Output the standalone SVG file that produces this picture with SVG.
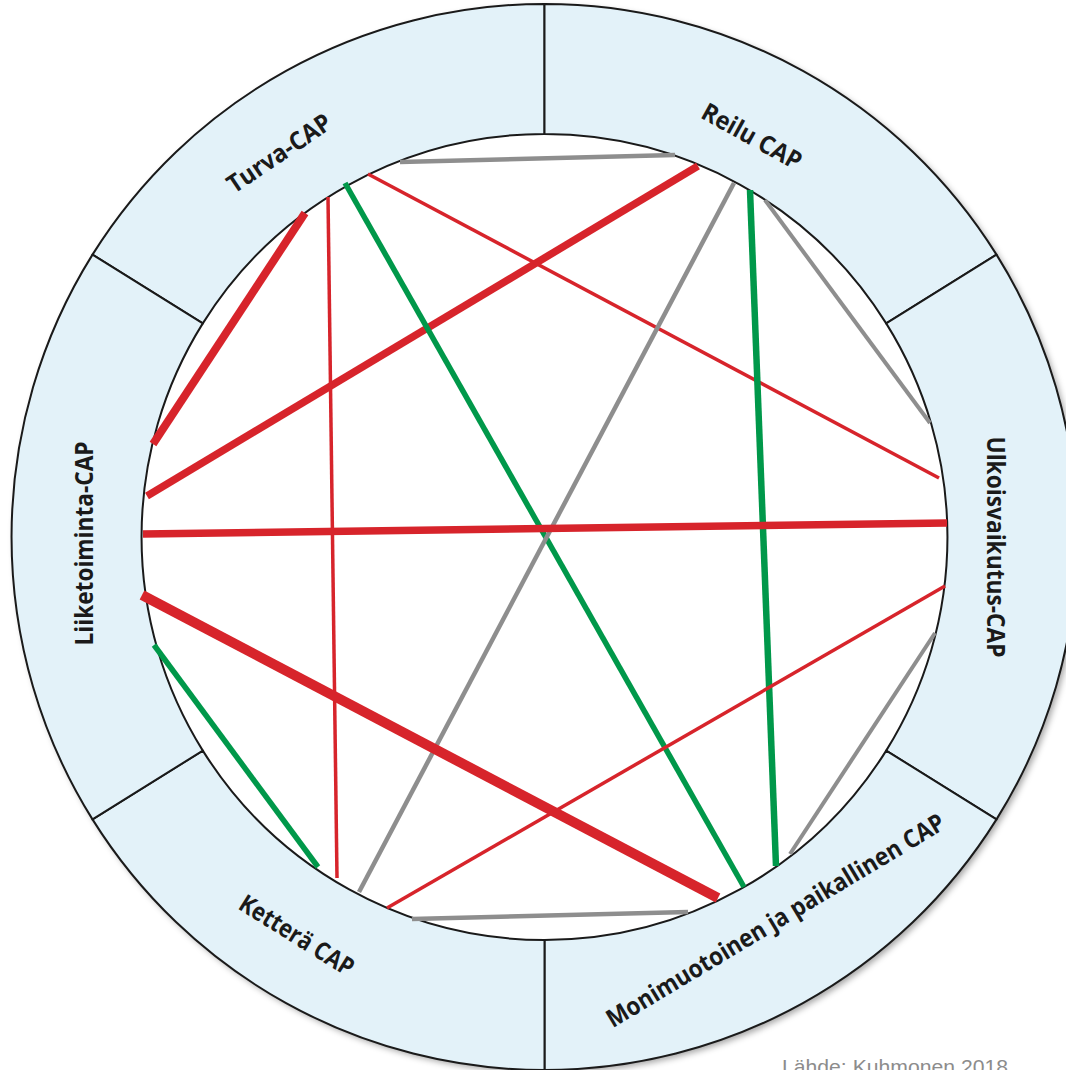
<svg xmlns="http://www.w3.org/2000/svg" width="1066" height="1070" viewBox="0 0 1066 1070">
  <style>
    .seg { fill: #e3f2f9; stroke: #1a1a1a; stroke-width: 2; stroke-linejoin: round; }
    .lbl { font-family: "Open Sans", "Liberation Sans", sans-serif; font-weight: bold; font-size: 25px; fill: #1a1a1a; text-anchor: middle; }
    .src { font-family: "Liberation Sans", Arial, sans-serif; font-size: 21px; fill: #8c8c8c; }
    .c { fill: none; stroke-linecap: butt; }
    .red { stroke: #d7242b; }
    .green { stroke: #00984a; }
    .gray { stroke: #8e8e8e; }
  </style>
  <defs>
    <filter id="shadow" x="-10%" y="-10%" width="120%" height="120%">
      <feGaussianBlur in="SourceAlpha" stdDeviation="3"/>
      <feOffset dx="3" dy="3" result="b"/>
      <feFlood flood-color="#000" flood-opacity="0.35"/>
      <feComposite in2="b" operator="in"/>
      <feMerge><feMergeNode/><feMergeNode in="SourceGraphic"/></feMerge>
    </filter>
  </defs>
  <rect width="1066" height="1070" fill="#ffffff"/>
  <g id="ring-bg">
    <circle cx="544.5" cy="537" r="533" fill="#e3f2f9" filter="url(#shadow)"/>
    <circle cx="544.5" cy="537" r="403" fill="#ffffff"/>
  </g>

  <g id="turva-cap">
    <path class="seg" d="M92.5 254.6 A533 533 0 0 1 544.5 4 L544.5 134 A403 403 0 0 0 202.8 323.4 Z"/>
    <text class="lbl" transform="translate(279 153) rotate(-34)" x="0" y="9" textLength="120" lengthAdjust="spacingAndGlyphs">Turva-CAP</text>
  </g>
  <g id="reilu-cap">
    <path class="seg" d="M544.5 4 A533 533 0 0 1 996.5 254.6 L886.2 323.4 A403 403 0 0 0 544.5 134 Z"/>
    <text class="lbl" transform="translate(752 136) rotate(29)" x="0" y="9" textLength="110" lengthAdjust="spacingAndGlyphs">Reilu CAP</text>
  </g>
  <g id="ulkoisvaikutus-cap">
    <path class="seg" d="M996.5 254.6 A533 533 0 0 1 996.5 819.4 L886.2 750.6 A403 403 0 0 0 886.2 323.4 Z"/>
    <text class="lbl" transform="translate(996 547) rotate(90)" x="0" y="9" textLength="221" lengthAdjust="spacingAndGlyphs">Ulkoisvaikutus-CAP</text>
  </g>
  <g id="monimuotoinen-cap">
    <path class="seg" d="M996.5 819.4 A533 533 0 0 1 544.5 1070 L544.5 940 A403 403 0 0 0 886.2 750.6 Z"/>
    <text class="lbl" transform="translate(776 921.5) rotate(-31)" x="0" y="7.5" textLength="390" lengthAdjust="spacingAndGlyphs">Monimuotoinen ja paikallinen CAP</text>
  </g>
  <g id="kettera-cap">
    <path class="seg" d="M544.5 1070 A533 533 0 0 1 92.5 819.4 L202.8 750.6 A403 403 0 0 0 544.5 940 Z"/>
    <text class="lbl" transform="translate(297 935) rotate(32)" x="0" y="9" textLength="130" lengthAdjust="spacingAndGlyphs">Ketterä CAP</text>
  </g>
  <g id="liiketoiminta-cap">
    <path class="seg" d="M92.5 819.4 A533 533 0 0 1 92.5 254.6 L202.8 323.4 A403 403 0 0 0 202.8 750.6 Z"/>
    <text class="lbl" transform="translate(83.5 543.5) rotate(-90)" x="0" y="9" textLength="204" lengthAdjust="spacingAndGlyphs">Liiketoiminta-CAP</text>
  </g>

  <g id="connectors">
    <line class="c gray" stroke-width="4.5" x1="400" y1="162" x2="675" y2="155"/>
    <line class="c red" stroke-width="7.5" x1="698" y1="166" x2="147" y2="496"/>
    <line class="c red" stroke-width="3.5" x1="368" y1="174" x2="939" y2="478"/>
    <line class="c green" stroke-width="5.5" x1="345" y1="183" x2="744" y2="887"/>
    <line class="c red" stroke-width="3.5" x1="328" y1="197" x2="337" y2="878"/>
    <line class="c red" stroke-width="8" x1="305" y1="213" x2="153" y2="444"/>
    <line class="c gray" stroke-width="4.5" x1="734" y1="183" x2="359" y2="892"/>
    <line class="c green" stroke-width="6.5" x1="750" y1="190" x2="776" y2="866"/>
    <line class="c gray" stroke-width="4" x1="765" y1="200" x2="930" y2="423"/>
    <line class="c red" stroke-width="7.5" x1="143" y1="534" x2="947" y2="523"/>
    <line class="c red" stroke-width="3.5" x1="945" y1="586" x2="387" y2="908"/>
    <line class="c red" stroke-width="10" x1="142" y1="595" x2="718" y2="898"/>
    <line class="c green" stroke-width="5.5" x1="154" y1="645" x2="318" y2="867"/>
    <line class="c gray" stroke-width="4" x1="935" y1="633" x2="790" y2="854"/>
    <line class="c gray" stroke-width="4.5" x1="412" y1="919" x2="688" y2="912"/>
  </g>

  <text class="src" x="782" y="1074" textLength="226" lengthAdjust="spacingAndGlyphs">Lähde: Kuhmonen 2018</text>
</svg>
